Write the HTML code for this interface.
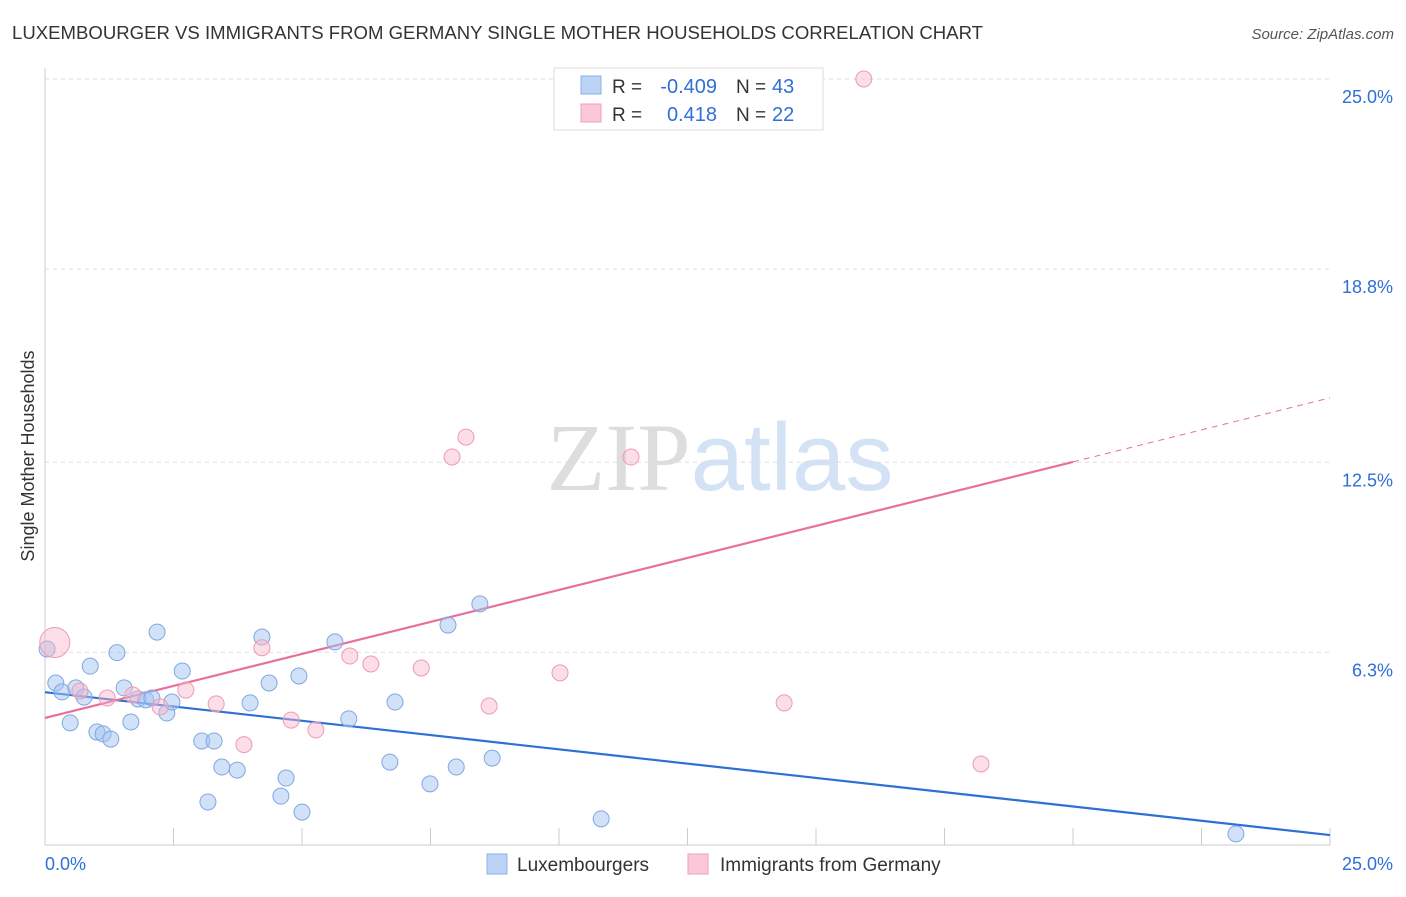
<!DOCTYPE html>
<html><head><meta charset="utf-8"><style>
body{margin:0;background:#fff;font-family:"Liberation Sans",sans-serif;}
svg text{font-family:"Liberation Sans",sans-serif;}
</style></head><body>
<svg id="chart" width="1406" height="892" viewBox="0 0 1406 892" xmlns="http://www.w3.org/2000/svg">
<text x="12" y="39" font-size="18" fill="#333" textLength="971" lengthAdjust="spacingAndGlyphs">LUXEMBOURGER VS IMMIGRANTS FROM GERMANY SINGLE MOTHER HOUSEHOLDS CORRELATION CHART</text>
<text x="1394" y="39" font-size="15" fill="#555" text-anchor="end" font-style="italic">Source: ZipAtlas.com</text>
<text x="720" y="490" font-size="96" text-anchor="middle"><tspan fill="#ddd" font-family="Liberation Serif">ZIP</tspan><tspan fill="#d4e2f6">atlas</tspan></text>
<text transform="translate(34,456) rotate(-90)" font-size="18" fill="#333" text-anchor="middle">Single Mother Households</text>
<g id="grid"></g><g id="axes"></g><g id="lines"></g><g id="points"></g>
<g>
<rect x="554" y="68" width="269" height="62" fill="#fff" stroke="#ddd"/>
<rect x="581" y="76" width="20" height="18" fill="#bcd3f5" stroke="#8ab0e6"/>
<rect x="581" y="104" width="20" height="18" fill="#fac8d8" stroke="#f0a0b8"/>
<text x="612" y="93" font-size="19" fill="#333">R =</text>
<text x="717" y="93" font-size="20" fill="#2f6fd6" text-anchor="end">-0.409</text>
<text x="736" y="93" font-size="19" fill="#333">N =</text>
<text x="772" y="93" font-size="20" fill="#2f6fd6">43</text>
<text x="612" y="121" font-size="19" fill="#333">R =</text>
<text x="717" y="121" font-size="20" fill="#2f6fd6" text-anchor="end">0.418</text>
<text x="736" y="121" font-size="19" fill="#333">N =</text>
<text x="772" y="121" font-size="20" fill="#2f6fd6">22</text>
</g>
<g>
<rect x="487" y="854" width="20" height="20" fill="#bcd3f5" stroke="#8ab0e6"/>
<text x="517" y="871" font-size="19" fill="#333">Luxembourgers</text>
<rect x="688" y="854" width="20" height="20" fill="#fac8d8" stroke="#f0a0b8"/>
<text x="720" y="871" font-size="19" fill="#333">Immigrants from Germany</text>
</g>
</svg>
<script>
const yTicks=[25,18.8,12.5,6.3];
const yTickLabels=["25.0%","18.8%","12.5%","6.3%"];
const xTickLabels=["0.0%","25.0%"];
const blueX=[0.04,0.21,0.33,0.49,0.60,0.76,0.88,1.01,1.13,1.28,1.40,1.54,1.67,1.81,1.96,2.08,2.18,2.37,2.47,2.67,3.05,3.17,3.29,3.44,3.74,3.99,4.22,4.36,4.59,4.69,4.94,5.00,5.64,5.91,6.71,6.81,7.49,7.84,8.00,8.46,8.70,10.82,23.17];
const blueY=[6.41,5.30,5.01,4.00,5.14,4.84,5.85,3.70,3.64,3.47,6.29,5.14,4.03,4.78,4.75,4.81,6.96,4.32,4.68,5.69,3.41,1.42,3.41,2.56,2.46,4.65,6.80,5.30,1.61,2.20,5.53,1.09,6.64,4.13,2.72,4.68,2.01,7.19,2.56,7.88,2.85,0.87,0.38];
const pinkX=[0.19,0.68,1.21,1.71,2.24,2.74,3.33,3.87,4.22,4.79,5.27,5.93,6.34,7.32,7.92,8.19,8.64,10.02,11.40,14.38,15.93,18.21];
const pinkY=[6.62,5.04,4.81,4.91,4.52,5.07,4.62,3.29,6.45,4.09,3.77,6.18,5.92,5.79,12.67,13.32,4.55,5.63,12.67,4.65,25.0,2.66];
const pinkR=[15,8,8,8,8,8,8,8,8,8,8,8,8,8,8,8,8,8,8,8,8,8];
const blueTrend=[5.0,0.34];   // y at x=0, y at x=25
const pinkTrend=[4.16,14.6];
const NS="http://www.w3.org/2000/svg";
const X=v=>45+v*51.4, Y=v=>845.5-v*30.66;
function mk(tag,attrs,parent){const e=document.createElementNS(NS,tag);for(const k in attrs)e.setAttribute(k,attrs[k]);document.getElementById(parent).appendChild(e);return e;}
yTicks.forEach((t,i)=>{
 const l=mk('line',{x1:45,x2:1330,y1:Y(t),y2:Y(t),stroke:'#ddd','stroke-dasharray':'4,4'},'grid');
 
 
 const tx=mk('text',{x:1393,y:Y(t)+24,'font-size':18,fill:'#2f6fd6','text-anchor':'end'},'grid');
 tx.textContent=yTickLabels[i];
 
 
});
const ax=mk('line',{x1:45,x2:45,y1:68,y2:845,stroke:'#ccc'},'axes');


const bx=mk('line',{x1:45,x2:1330,y1:845,y2:845,stroke:'#ccc'},'axes');


for(let i=0;i<=10;i++){
 const t=mk('line',{x1:X(i*2.5),x2:X(i*2.5),y1:828,y2:845,stroke:'#ccc'},'axes');
 
 
}
[[0,'start',45],[25,'end',1393]].forEach((d,i)=>{
 const t=mk('text',{x:d[2],y:870,'font-size':18,fill:'#2f6fd6','text-anchor':d[1]},'axes');
 t.textContent=xTickLabels[i];
 
 
});
const bl=mk('line',{x1:X(0),y1:Y(blueTrend[0]),x2:X(25),y2:Y(blueTrend[1]),stroke:'#2f6fd6','stroke-width':2.2},'lines');


const pAt=x=>pinkTrend[0]+(pinkTrend[1]-pinkTrend[0])*x/25;
const pl=mk('line',{x1:X(0),y1:Y(pAt(0)),x2:X(20),y2:Y(pAt(20)),stroke:'#e8709a','stroke-width':2.2},'lines');


const pd=mk('line',{x1:X(20),y1:Y(pAt(20)),x2:X(25),y2:Y(pAt(25)),stroke:'#e8709a','stroke-width':1,'stroke-dasharray':'6,5'},'lines');


blueX.forEach((x,i)=>{
 const c=mk('circle',{cx:X(x),cy:Y(blueY[i]),r:8,fill:'rgba(164,196,240,0.5)',stroke:'#7fa8e2','stroke-width':1},'points');
 
 
});
pinkX.forEach((x,i)=>{
 const c=mk('circle',{cx:X(x),cy:Y(pinkY[i]),r:pinkR[i],fill:'rgba(246,182,202,0.45)',stroke:'#ee9ab5','stroke-width':1},'points');
 
 
});
</script>
</body></html>
